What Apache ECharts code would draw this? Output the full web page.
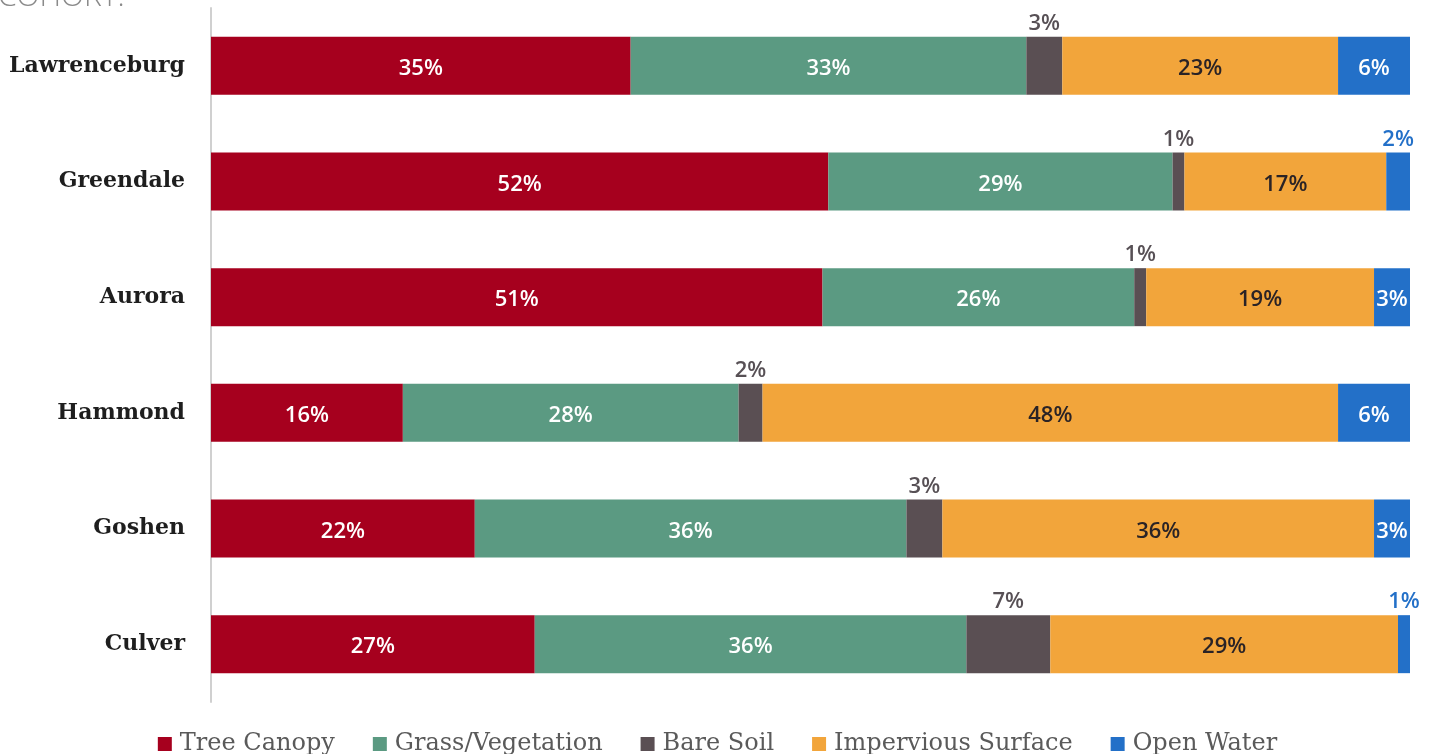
<!DOCTYPE html>
<html>
<head>
<meta charset="utf-8">
<title>Land Cover by Cohort</title>
<script src="https://cdn.jsdelivr.net/npm/echarts@6/dist/echarts.min.js"></script>
<style>
  html, body { margin: 0; padding: 0; background: #ffffff; }
  #chart { width: 1435px; height: 754px; }
</style>
</head>
<body>
<div id="chart"></div>
<script>
// Land cover shares (%) for each community, top to bottom
const communities = ['Lawrenceburg', 'Greendale', 'Aurora', 'Hammond', 'Goshen', 'Culver'];
const treeCanopy  = [35, 52, 51, 16, 22, 27];
const grassVeg    = [33, 29, 26, 28, 36, 36];
const bareSoil    = [3, 1, 1, 2, 3, 7];
const impervious  = [23, 17, 19, 48, 36, 29];
const openWater   = [6, 2, 3, 6, 3, 1];

const seriesDefs = [
  { name: 'Tree Canopy',         values: treeCanopy, color: '#A6001E', text: '#ffffff' },
  { name: 'Grass/Vegetation',    values: grassVeg,   color: '#5B9A82', text: '#ffffff' },
  { name: 'Bare Soil',           values: bareSoil,   color: '#5A4F53', text: '#575055' },
  { name: 'Impervious Surface',  values: impervious, color: '#F2A53B', text: '#2a2326' },
  { name: 'Open Water',          values: openWater,  color: '#2370C8', text: '#ffffff' }
];

// Each row is drawn as a 100% bar: segment length = share of the row total
const rowTotals = communities.map((_, i) =>
  seriesDefs.reduce((s, d) => s + d.values[i], 0));

const valueFont = '"Open Sans", "DejaVu Sans", sans-serif';

const series = seriesDefs.map(def => ({
  name: def.name,
  type: 'bar',
  stack: 'cover',
  barWidth: 58,
  itemStyle: { color: def.color },
  emphasis: { disabled: true },
  label: {
    show: true,
    position: 'inside',
    offset: [0, 3],
    color: def.text,
    fontFamily: valueFont,
    fontSize: 22,
    fontWeight: 600,
    formatter: p => p.data.raw + '%'
  },
  data: def.values.map((v, i) => {
    const item = { value: v / rowTotals[i] * 100, raw: v };
    if (def.name === 'Bare Soil') {
      item.label = { position: 'top', distance: 2, offset: [0, 0], color: def.text };
    } else if (def.name === 'Open Water' && v <= 2) {
      item.label = { position: 'top', distance: 2, offset: [0, 0], color: def.color };
    }
    return item;
  })
}));

const chart = echarts.init(document.getElementById('chart'), null, { renderer: 'canvas' });

chart.setOption({
  animation: false,
  backgroundColor: '#ffffff',
  graphic: [{
    type: 'text',
    left: -2,
    top: -18,
    style: {
      text: 'COHORT:',
      font: '300 30px "Open Sans", sans-serif',
      fill: '#8a8a8a'
    }
  }],
  grid: { left: 211, right: 25, top: 8, height: 694, containLabel: false },
  legend: {
    top: 727,
    left: 'center',
    icon: 'rect',
    itemWidth: 14,
    itemHeight: 14,
    itemGap: 38,
    textStyle: {
      fontFamily: '"DejaVu Serif", serif',
      fontSize: 24,
      color: '#5a5a5a',
      padding: [0, 0, 0, 3]
    },
    data: seriesDefs.map(d => d.name)
  },
  xAxis: {
    type: 'value',
    min: 0,
    max: 100,
    show: false
  },
  yAxis: {
    type: 'category',
    inverse: true,
    data: communities,
    axisLine: { show: true, lineStyle: { color: '#d0d0d0', width: 2 } },
    axisTick: { show: false },
    axisLabel: {
      margin: 26,
      color: '#1e1e1e',
      fontFamily: '"DejaVu Serif", serif',
      fontWeight: 'bold',
      fontSize: 22,
      padding: [3, 0, 0, 0]
    }
  },
  series: series
});
</script>
</body>
</html>
